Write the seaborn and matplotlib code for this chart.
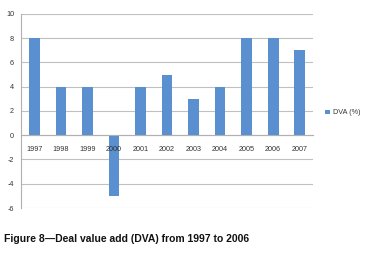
import matplotlib
matplotlib.use("Agg")
import matplotlib.pyplot as plt
import seaborn as sns
import pandas as pd
import numpy as np

years = ["1997", "1998", "1999", "2000", "2001", "2002", "2003", "2004", "2005", "2006", "2007"]
dva = [8, 4, 4, -5, 4, 5, 3, 4, 8, 8, 7]
y_ticks = [-6, -4, -2, 0, 2, 4, 6, 8, 10]
series_name = "DVA (%)"
caption = "Figure 8\u2014Deal value add (DVA) from 1997 to 2006"

sns.set_style("white")
plt.rcParams['font.family'] = ['Liberation Sans', 'DejaVu Sans']

df = pd.DataFrame({"Year": years, "DVA": dva})

fig = plt.figure(figsize=(3.66, 2.62), dpi=100)
ax = fig.add_axes([0.0574, 0.206, 0.798, 0.741])
bar_color = "#5a8fd0"
sns.barplot(data=df, x="Year", y="DVA", color=bar_color, width=0.4, ax=ax,
            saturation=1, label=series_name, zorder=1, linewidth=0, edgecolor="none")

ax.set_ylim(-6, 10)
ax.set_xlim(-0.5, len(years) - 0.5)
ax.set_yticks(y_ticks)
ax.set_yticklabels([str(v) for v in y_ticks], fontsize=5.2, color="#333333")
for yv in y_ticks:
    ax.axhline(yv, color="#c0c0c0", linewidth=0.8, zorder=0)
ax.set_axisbelow(False)
ax.tick_params(axis='y', length=0, pad=5)

ax.spines['top'].set_visible(False)
ax.spines['right'].set_visible(False)
ax.spines['bottom'].set_position(('data', 0))
ax.spines['bottom'].set_color("#b0b0b0")
ax.spines['bottom'].set_linewidth(0.8)
ax.spines['left'].set_color("#b0b0b0")
ax.spines['left'].set_linewidth(0.8)

ax.set_xticks(range(len(years)))
ax.set_xticklabels(years, fontsize=5.2, color="#333333")
ax.tick_params(axis='x', which='major', length=0, pad=8)
ax.set_xticks(np.arange(-0.5, len(years) + 0.5, 1), minor=True)
ax.tick_params(axis='x', which='minor', length=2.5, color="#b0b0b0", direction='out')
ax.set_xlabel("")
ax.set_ylabel("")

leg = ax.legend(loc='center left', bbox_to_anchor=(1.02, 0.49), frameon=False,
                fontsize=5.2, handlelength=0.6, handleheight=0.6, handletextpad=0.4)
for t in leg.get_texts():
    t.set_color("#333333")

fig.text(0.011, 0.087, caption, fontsize=7.5, fontweight='bold', color="#111111",
         ha='left', va='center')

fig.savefig("out.png", dpi=100, facecolor="white")
